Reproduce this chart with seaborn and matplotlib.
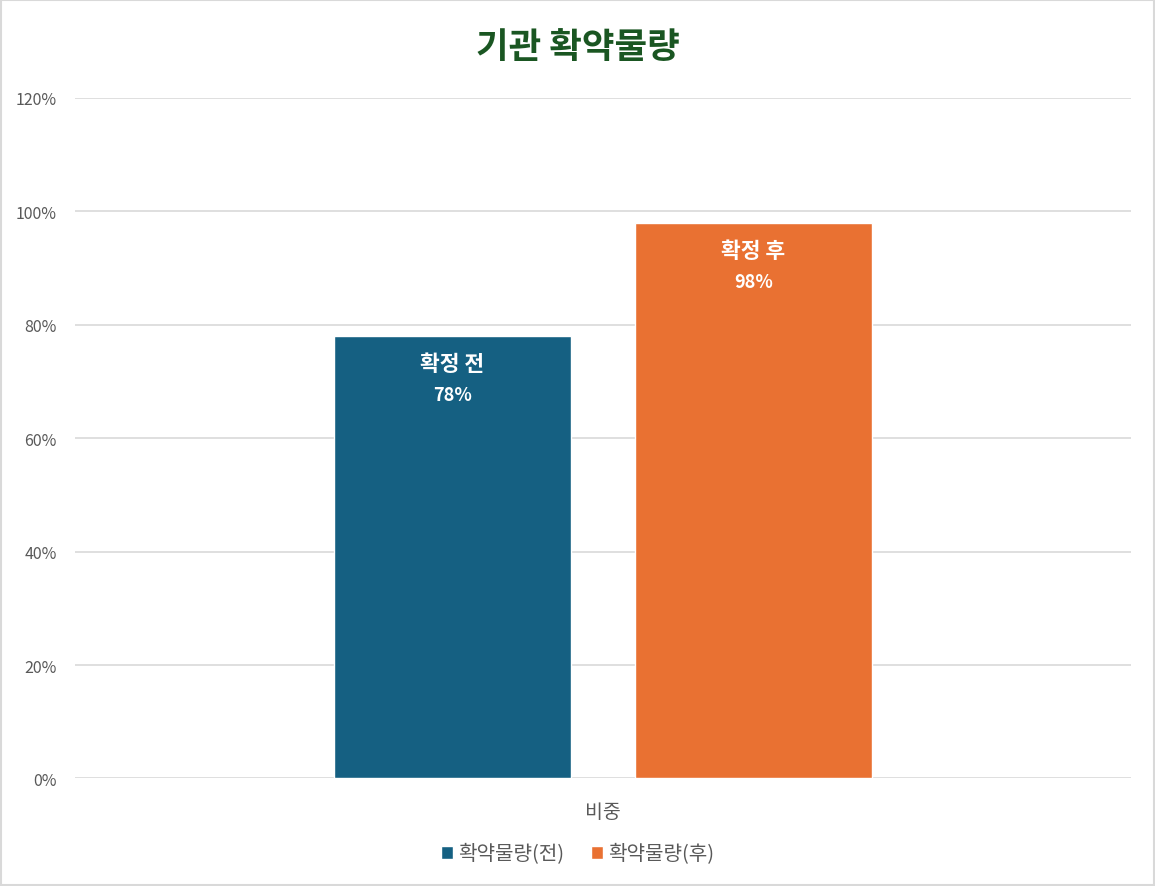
import matplotlib
matplotlib.use("Agg")
import matplotlib.pyplot as plt
import matplotlib.patches as mpatches
from matplotlib.ticker import PercentFormatter
import pandas as pd
import seaborn as sns

# 데이터
categories = ["비중"]
series = ["확약물량(전)", "확약물량(후)"]
values = [0.78, 0.98]
inner_labels = ["확정 전", "확정 후"]
colors = ["#156082", "#E97132"]

sns.set_theme(style="white")
plt.rcParams["font.family"] = ["Noto Sans CJK KR", "DejaVu Sans"]

df = pd.DataFrame({
    "category": categories * len(series),
    "series": series,
    "value": values,
})

fig = plt.figure(figsize=(11.55, 8.87), dpi=100)
ax = fig.add_axes([0.0649, 0.1212, 0.9143, 0.7672])

sns.barplot(data=df, x="category", y="value", hue="series",
            palette=colors, width=0.57, gap=0.213, saturation=1,
            ax=ax, legend=True)

ax.set_ylim(0, 1.2)
ax.set_yticks([0, 0.2, 0.4, 0.6, 0.8, 1.0, 1.2])
ax.yaxis.set_major_formatter(PercentFormatter(1.0, decimals=0))
ax.grid(axis="y", color="#D9D9D9", linewidth=1.2)
ax.set_axisbelow(True)
for s in ax.spines.values():
    s.set_visible(False)
ax.tick_params(axis="both", length=0, labelsize=11.5, labelcolor="#595959")
ax.tick_params(axis="y", pad=13)
ax.tick_params(axis="x", pad=16, labelsize=14)
ax.set_xlabel("")
ax.set_ylabel("")

# 막대 안쪽 라벨
bars = [p for p in ax.patches if p.get_height() > 0]
bars = sorted(bars, key=lambda p: p.get_x())
for bar, name, val in zip(bars, inner_labels, values):
    cx = bar.get_x() + bar.get_width() / 2
    top = bar.get_height()
    ax.annotate(name, (cx, top), xytext=(0, -20), textcoords="offset points",
                ha="center", va="center", color="white", fontsize=15.5,
                fontweight="bold")
    ax.annotate(f"{val:.0%}", (cx, top), xytext=(0, -42), textcoords="offset points",
                ha="center", va="center", color="white", fontsize=13,
                fontweight="bold")

# 범례
handles, labels = ax.get_legend_handles_labels()
ax.get_legend().remove()
fig.legend(handles, labels, loc="center", bbox_to_anchor=(0.5, 0.036),
           ncol=2, frameon=False, fontsize=14.5, labelcolor="#595959",
           handlelength=0.6, handleheight=0.6, handletextpad=0.25,
           columnspacing=1.3)

fig.suptitle("기관 확약물량", x=0.5, y=0.947, va="center", fontsize=25.5,
             fontweight="bold", color="#1A5622")

# 테두리
fig.patches.append(mpatches.Rectangle((0.001, 0.001), 0.998, 0.998,
                                      transform=fig.transFigure, fill=False,
                                      edgecolor="#D9D9D9", linewidth=1.5))

fig.savefig("out.png", dpi=100)
